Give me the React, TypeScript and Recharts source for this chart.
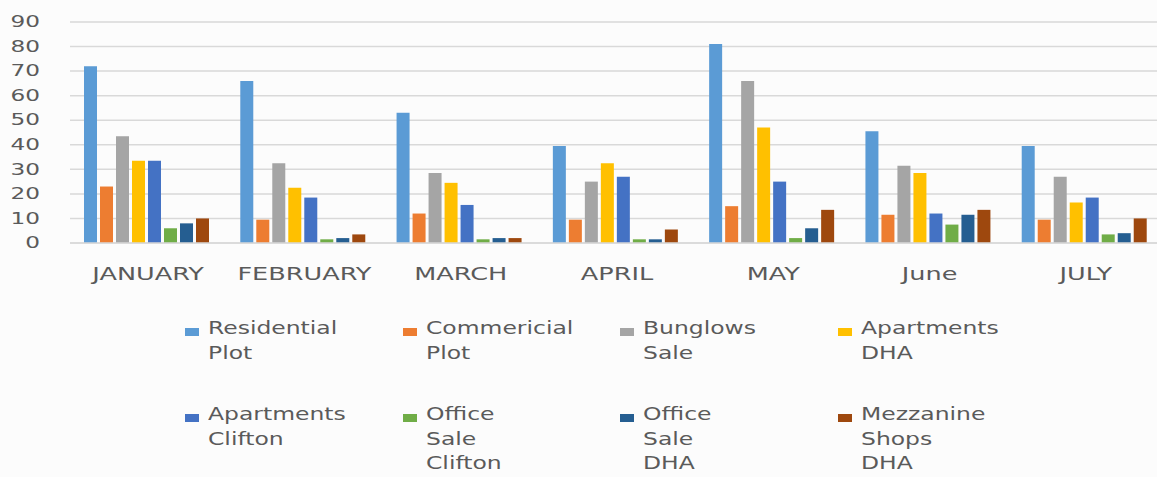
import React from "react";
import { BarChart, Bar, XAxis, YAxis, CartesianGrid, Legend } from "recharts";

const months = ["JANUARY", "FEBRUARY", "MARCH", "APRIL", "MAY", "June", "JULY"];
const residentialPlot = [72, 66, 53, 39.5, 81, 45.5, 39.5];
const commericialPlot = [23, 9.5, 12, 9.5, 15, 11.5, 9.5];
const bunglowsSale = [43.5, 32.5, 28.5, 25, 66, 31.5, 27];
const apartmentsDHA = [33.5, 22.5, 24.5, 32.5, 47, 28.5, 16.5];
const apartmentsClifton = [33.5, 18.5, 15.5, 27, 25, 12, 18.5];
const officeSaleClifton = [6, 1.5, 1.5, 1.5, 2, 7.5, 3.5];
const officeSaleDHA = [8, 2, 2, 1.5, 6, 11.5, 4];
const mezzanineShopsDHA = [10, 3.5, 2, 5.5, 13.5, 13.5, 10];
const yTicks = [0, 10, 20, 30, 40, 50, 60, 70, 80, 90];

const seriesNames = [
  "Residential Plot",
  "Commericial Plot",
  "Bunglows Sale",
  "Apartments DHA",
  "Apartments Clifton",
  "Office Sale Clifton",
  "Office Sale DHA",
  "Mezzanine Shops DHA",
];
const seriesValues = [
  residentialPlot,
  commericialPlot,
  bunglowsSale,
  apartmentsDHA,
  apartmentsClifton,
  officeSaleClifton,
  officeSaleDHA,
  mezzanineShopsDHA,
];
const colors = ["#5B9BD5", "#ED7D31", "#A5A5A5", "#FFC000", "#4472C4", "#70AD47", "#255E91", "#9E480E"];

const data = months.map((m, i) => {
  const row: Record<string, string | number> = { month: m };
  seriesNames.forEach((s, k) => {
    row["s" + k] = seriesValues[k][i];
  });
  return row;
});

const FONT = "'DejaVu Sans', sans-serif";
const TEXT = "#5a5a5a";

const XTick = (props: any) => {
  const { x, y, payload } = props;
  return (
    <text
      transform={`translate(${x},${y + 22}) scale(1.42,1)`}
      textAnchor="middle"
      dominantBaseline="central"
      fontFamily={FONT}
      fontSize={18}
      fill={TEXT}
    >
      {payload.value}
    </text>
  );
};

const YTick = (props: any) => {
  const { x, y, payload } = props;
  return (
    <text
      transform={`translate(${x - 22},${y}) scale(1.45,1)`}
      textAnchor="end"
      dominantBaseline="central"
      fontFamily={FONT}
      fontSize={16}
      fill={TEXT}
    >
      {payload.value}
    </text>
  );
};

const LegendContent = () => {
  return (
    <div style={{ position: "relative", width: 1157, height: 165 }}>
      {seriesNames.map((name, k) => {
        const col = k % 4;
        const row = Math.floor(k / 4);
        const left = 185 + col * 217.5;
        const top = row * 86;
        return (
          <div key={name} style={{ position: "absolute", left, top }}>
            <div
              style={{
                position: "absolute",
                left: 0,
                top: 12,
                width: 14,
                height: 8,
                background: colors[k],
              }}
            />
            <div
              style={{
                position: "absolute",
                left: 23,
                top: 0,
                fontFamily: FONT,
                fontSize: 17.5,
                lineHeight: "24.5px",
                color: TEXT,
                whiteSpace: "nowrap",
                transform: "scale(1.34,1)",
                transformOrigin: "0 0",
              }}
            >
              {name.split(" ").map((w, j) => (
                <div key={j}>{w}</div>
              ))}
            </div>
          </div>
        );
      })}
    </div>
  );
};

export default function App() {
  return (
    <div
      style={{
        position: "absolute",
        left: 0,
        top: 0,
        width: 1157,
        height: 477,
        overflow: "hidden",
        background: "#fcfcfc",
      }}
    >
      <BarChart
        width={1170}
        height={477}
        data={data}
        margin={{ top: 22, right: 6, left: 0, bottom: 194 }}
        barCategoryGap={14}
        barGap={3}
      >
        <CartesianGrid vertical={false} stroke="#d9d9d9" strokeWidth={1.5} />
        <XAxis
          dataKey="month"
          height={40}
          axisLine={{ stroke: "#d9d9d9", strokeWidth: 1.5 }}
          tickLine={false}
          tick={<XTick />}
          interval={0}
        />
        <YAxis
          width={70}
          domain={[0, 90]}
          ticks={yTicks}
          axisLine={false}
          tickLine={false}
          tick={<YTick />}
          interval={0}
        />
        <Legend
          layout="horizontal"
          verticalAlign="middle"
          align="center"
          wrapperStyle={{ left: 0, top: 316, width: 1157 }}
          content={<LegendContent />}
        />
        {seriesNames.map((name, k) => (
          <Bar key={name} dataKey={"s" + k} name={name} fill={colors[k]} isAnimationActive={false} />
        ))}
      </BarChart>
    </div>
  );
}
